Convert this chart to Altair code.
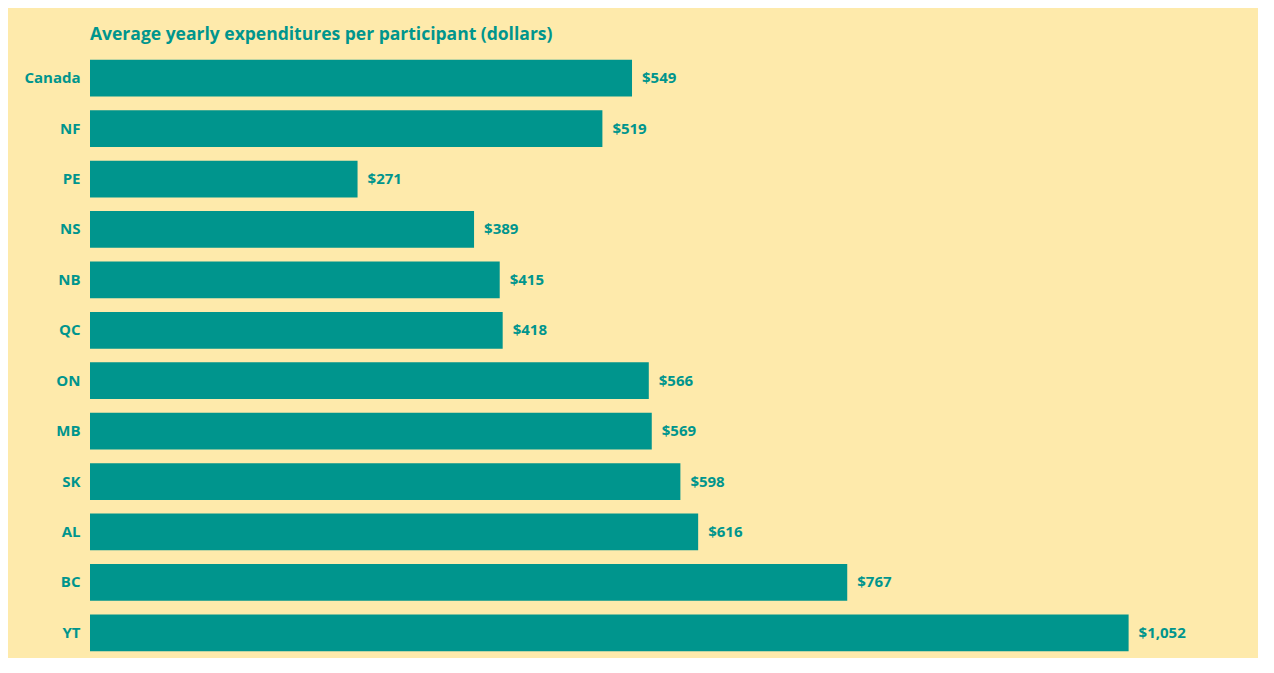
import altair as alt
import pandas as pd

regions = ["Canada", "NF", "PE", "NS", "NB", "QC", "ON", "MB", "SK", "AL", "BC", "YT"]
spending = [549, 519, 271, 389, 415, 418, 566, 569, 598, 616, 767, 1052]

df = pd.DataFrame({"region": regions, "value": spending})

TEAL = "#00958D"
BG = "#FEEAAB"
FONT = "Open Sans"

y = alt.Y("region:N", sort=regions, title=None,
          scale=alt.Scale(paddingInner=0.27, paddingOuter=0.135),
          axis=alt.Axis(ticks=False, domain=False, labelColor=TEAL, labelFont=FONT,
                        labelFontWeight="bold", labelFontSize=15, labelPadding=10))
x = alt.X("value:Q", title=None, scale=alt.Scale(domain=[0, 1100], nice=False),
          axis=None)

bars = alt.Chart(df).mark_bar(color=TEAL).encode(x=x, y=y)
labels = alt.Chart(df).mark_text(align="left", baseline="middle", dx=10, color=TEAL,
                                 font=FONT, fontWeight="bold", fontSize=15).encode(
    x=x, y=y, text=alt.Text("value:Q", format="$,.0f"))

chart = (bars + labels).properties(
    width=1086, height=605,
    title=alt.TitleParams("Average yearly expenditures per participant (dollars)",
                          anchor="start", frame="group", color=TEAL, font=FONT,
                          fontSize=17.5, fontWeight="bold", offset=10),
    background=BG,
    autosize=alt.AutoSizeParams(type="none"),
    padding={"left": 82, "top": 45, "right": 82, "bottom": 0},
).configure_view(stroke=None)

chart.save("out.html", embed_options={"renderer": "svg", "actions": False})
